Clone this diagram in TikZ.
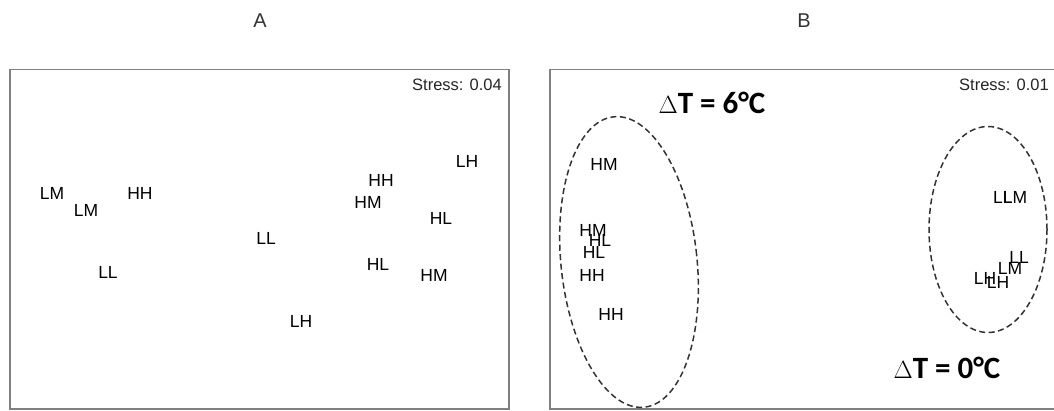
\documentclass[tikz,border=0pt]{standalone}
\usepackage{fontspec}
\setmainfont{Liberation Sans}
\newfontfamily\calib{Carlito}
\begin{document}
\begin{tikzpicture}[x=1pt,y=-1pt,
 lab/.style={font=\fontsize{17.5}{20}\selectfont, inner sep=0pt},
 ttl/.style={font=\fontsize{20}{22}\selectfont, inner sep=0pt, text=black!80},
 stress/.style={font=\fontsize{16.5}{18}\selectfont, inner sep=0pt, text=black!85},
 frame/.style={draw=black!50, line width=1.3pt},
 clus/.style={draw=black!80, dash pattern=on 6pt off 3.5pt, line width=1.5pt},
 dt/.style={font=\calib\fontsize{31}{34}\selectfont, inner sep=0pt}]
\useasboundingbox (0,0) rectangle (1054,410);
% panel A
\node[ttl] (tA) at (260,21) {A};
\draw[frame] (10,69.5) rectangle (509,409);
\node[stress, anchor=east] (sA) at (502,85) {Stress: 0.04};
\node[lab] (a1) at (52,193) {LM};
\node[lab] (a2) at (86,210) {LM};
\node[lab] (a3) at (140,193) {HH};
\node[lab] (a4) at (108,272) {LL};
\node[lab] (a5) at (266,238) {LL};
\node[lab] (a6) at (301,321) {LH};
\node[lab] (a7) at (381,180) {HH};
\node[lab] (a8) at (368,202) {HM};
\node[lab] (a9) at (467,161) {LH};
\node[lab] (a10) at (441,218) {HL};
\node[lab] (a11) at (378,264) {HL};
\node[lab] (a12) at (434,275) {HM};
% panel B
\node[ttl] (tB) at (804,21) {B};
\draw[frame] (550,69.5) rectangle (1070,409);
\node[stress, anchor=west] (sB) at (959,85) {Stress: 0.01};
\draw[clus, rotate around={6:(629,262)}] (629,262) ellipse [x radius=68pt, y radius=146pt];
\draw[clus] (988,229.5) ellipse [x radius=59pt, y radius=103pt];
\node[dt] (d6) at (712,103) {$\Delta$\textbf{T = 6°C}};
\node[dt] (d0) at (947,368) {$\Delta$\textbf{T = 0°C}};
\node[lab] (b1) at (604,164) {HM};
\node[lab] (b2) at (593,230) {HM};
\node[lab] (b3) at (600,240) {HL};
\node[lab] (b4) at (594,252) {HL};
\node[lab] (b5) at (592,275) {HH};
\node[lab] (b6) at (611,314) {HH};
\node[lab, anchor=west] (b7) at (993,197) {LL};
\node[lab, anchor=west] (b8) at (1002.7,197) {LM};
\node[lab] (b9) at (985,278) {LH};
\node[lab] (b10) at (998,282) {LH};
\node[lab] (b11) at (1010,268) {LM};
\node[lab] (b12) at (1019,257) {LL};
\end{tikzpicture}
\end{document}
